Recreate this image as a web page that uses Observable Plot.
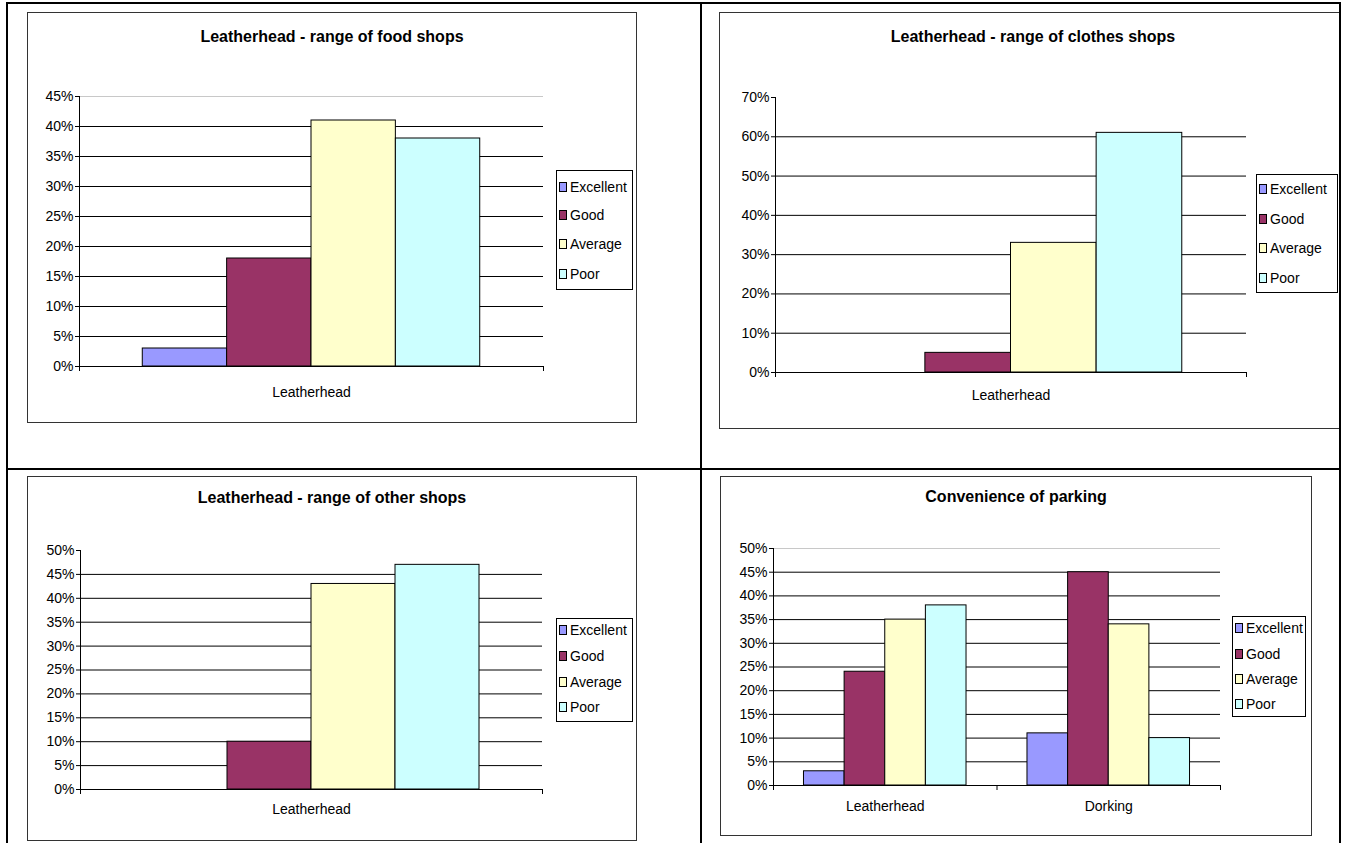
<!DOCTYPE html>
<html><head><meta charset="utf-8">
<script src="https://cdn.jsdelivr.net/npm/d3@7"></script>
<script src="https://cdn.jsdelivr.net/npm/@observablehq/plot@0.6"></script>
<style>
body{margin:0;background:#fff;font-family:"Liberation Sans",Arial,sans-serif;color:#000}
#page{position:relative;width:1345px;height:843px;overflow:hidden;background:#fff}
.line{position:absolute;background:#000}
.box{position:absolute;border:1px solid #333;box-sizing:border-box;background:#fff}
.title{position:absolute;font-weight:bold;font-size:16px;white-space:nowrap;transform:translate(-50%,-50%)}
.legend{position:absolute;border:1px solid #000;box-sizing:border-box;background:#fff}
.item{position:absolute;left:2px;font-size:14px;white-space:nowrap;transform:translateY(-50%);display:flex;align-items:center;line-height:16px}
.sw{width:6px;height:8px;border:1px solid #000;margin-right:3px}
.plotwrap{position:absolute}
.plotwrap svg{overflow:visible}
</style></head>
<body><div id="page"></div>
<script>
// ---- data ----
const series = ["Excellent", "Good", "Average", "Poor"];
const seriesColors = ["#9999FF", "#993366", "#FFFFCC", "#CCFFFF"];

const foodTitle = "Leatherhead - range of food shops";
const foodCategories = ["Leatherhead"];
const foodValues = [[3, 18, 41, 38]];
const foodTicks = [0, 5, 10, 15, 20, 25, 30, 35, 40, 45];

const clothesTitle = "Leatherhead - range of clothes shops";
const clothesCategories = ["Leatherhead"];
const clothesValues = [[0, 5, 33, 61]];
const clothesTicks = [0, 10, 20, 30, 40, 50, 60, 70];

const otherTitle = "Leatherhead - range of other shops";
const otherCategories = ["Leatherhead"];
const otherValues = [[0, 10, 43, 47]];
const otherTicks = [0, 5, 10, 15, 20, 25, 30, 35, 40, 45, 50];

const parkingTitle = "Convenience of parking";
const parkingCategories = ["Leatherhead", "Dorking"];
const parkingValues = [[3, 24, 35, 38], [11, 45, 34, 10]];
const parkingTicks = [0, 5, 10, 15, 20, 25, 30, 35, 40, 45, 50];

// ---- layout (page pixels) ----
const panels = [
  {title: foodTitle, cats: foodCategories, values: foodValues, ticks: foodTicks, topLine: true,
   box: {l: 27, t: 12, r: 637, b: 423}, titleX: 332, titleY: 37,
   plotL: 79, plotR: 543, yTop: 96, y0: 366, labelDy: 26,
   legend: {l: 556, t: 170, r: 633, b: 290, ys: [187, 215, 244, 274]}},
  {title: clothesTitle, cats: clothesCategories, values: clothesValues, ticks: clothesTicks, topLine: false,
   box: {l: 719, t: 12, r: 1345, b: 429}, titleX: 1033, titleY: 37,
   plotL: 775, plotR: 1246, yTop: 97, y0: 372, labelDy: 23,
   legend: {l: 1256, t: 174, r: 1338, b: 293, ys: [189, 219, 248, 278]}},
  {title: otherTitle, cats: otherCategories, values: otherValues, ticks: otherTicks, topLine: false,
   box: {l: 27, t: 476, r: 637, b: 841}, titleX: 332, titleY: 498,
   plotL: 80, plotR: 542, yTop: 550, y0: 789, labelDy: 20,
   legend: {l: 556, t: 618, r: 633, b: 722, ys: [630, 656, 682, 707]}},
  {title: parkingTitle, cats: parkingCategories, values: parkingValues, ticks: parkingTicks, topLine: true,
   box: {l: 720, t: 476, r: 1312, b: 836}, titleX: 1016, titleY: 497,
   plotL: 773, plotR: 1220, yTop: 548, y0: 785, labelDy: 21,
   legend: {l: 1232, t: 616, r: 1306, b: 717, ys: [628, 654, 679, 704]}}
];

const page = document.getElementById("page");
function el(cls, css, parent) {
  const d = document.createElement("div");
  d.className = cls;
  Object.assign(d.style, css);
  (parent || page).appendChild(d);
  return d;
}

for (const p of panels) {
  el("box", {left: p.box.l + "px", top: p.box.t + "px", width: (p.box.r - p.box.l) + "px", height: (p.box.b - p.box.t) + "px"});
  const t = el("title", {left: p.titleX + "px", top: p.titleY + "px"});
  t.textContent = p.title;

  const mL = 60, mR = 10, mT = 10, mB = 45;
  const n = p.cats.length;
  const max = p.ticks[p.ticks.length - 1];
  const rows = [];
  p.values.forEach((vals, i) => vals.forEach((v, s) => {
    if (v > 0) rows.push({cat: p.cats[i], series: series[s], v, x1: i + (0.75 + s) / 5.5, x2: i + (1.75 + s) / 5.5});
  }));
  const grid = p.ticks.filter(d => d > 0 && d < max);
  const chart = Plot.plot({
    width: p.plotR - p.plotL + mL + mR,
    height: p.y0 - p.yTop + mT + mB,
    marginLeft: mL, marginRight: mR, marginTop: mT, marginBottom: mB,
    x: {domain: [0, n], axis: null, label: null},
    y: {domain: [0, max], axis: null, label: null},
    color: {domain: series, range: seriesColors},
    style: {fontFamily: '"Liberation Sans", Arial, sans-serif', fontSize: "14px", color: "#000", background: "transparent"},
    marks: [
      Plot.ruleY(grid, {y: d => d, x1: 0, x2: n, stroke: "#000"}),
      p.topLine ? Plot.ruleY([max], {y: d => d, x1: 0, x2: n, stroke: "#c8c8c8"}) : null,
      Plot.rectY(rows, {x1: "x1", x2: "x2", y1: 0, y2: "v", fill: "series", stroke: "#000", strokeWidth: 1}),
      Plot.ruleY([0], {y: d => d, x1: 0, x2: n, stroke: "#000"}),
      Plot.ruleX([0], {x: d => d, y1: 0, y2: max, stroke: "#000"}),
      Plot.axisY({ticks: p.ticks, tickSize: 4, tickPadding: 2, tickFormat: d => d + "%", label: null}),
      Plot.axisX({ticks: d3.range(n + 1), tickSize: 5, tickFormat: () => "", label: null}),
      Plot.text(p.cats, {x: (d, i) => i + 0.5, y: 0, dy: p.labelDy, text: d => d, fill: "#000"})
    ]
  });
  const wrap = el("plotwrap", {left: (p.plotL - mL) + "px", top: (p.yTop - mT) + "px"});
  wrap.appendChild(chart);

  const lg = el("legend", {left: p.legend.l + "px", top: p.legend.t + "px", width: (p.legend.r - p.legend.l) + "px", height: (p.legend.b - p.legend.t) + "px"});
  series.forEach((s, k) => {
    const it = el("item", {top: (p.legend.ys[k] - p.legend.t - 1) + "px"}, lg);
    const sw = document.createElement("span");
    sw.className = "sw";
    sw.style.background = seriesColors[k];
    it.appendChild(sw);
    const tx = document.createElement("span");
    tx.textContent = s;
    it.appendChild(tx);
  });
}

// table borders
el("line", {left: "6px", top: "2px", width: "1336px", height: "2px"});
el("line", {left: "6px", top: "2px", width: "2px", height: "841px"});
el("line", {left: "700px", top: "2px", width: "2px", height: "841px"});
el("line", {left: "1339px", top: "2px", width: "2px", height: "841px"});
el("line", {left: "6px", top: "468px", width: "1335px", height: "2px"});
el("line", {left: "1341px", top: "0px", width: "4px", height: "843px", background: "#fff"});
</script>
</body></html>
